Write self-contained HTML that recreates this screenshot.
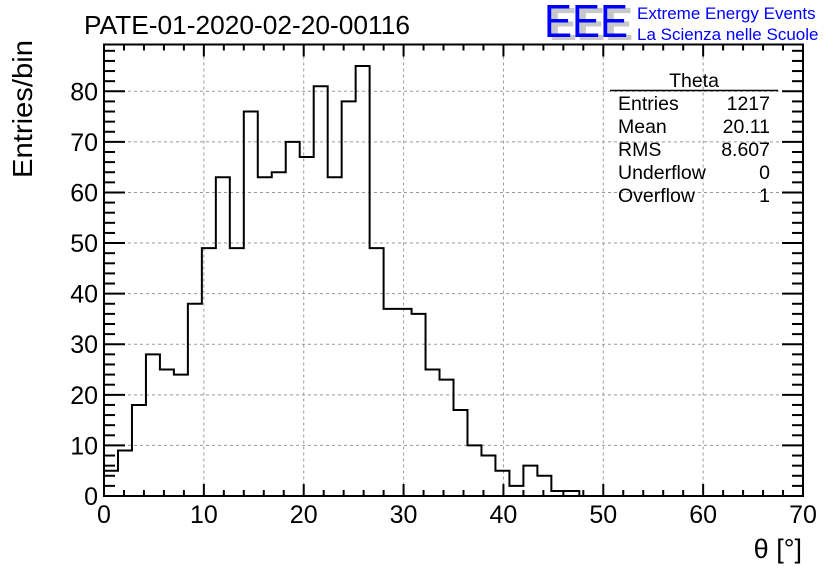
<!DOCTYPE html>
<html><head><meta charset="utf-8"><style>
html,body{margin:0;padding:0;background:#fff;}
svg{display:block;font-family:"Liberation Sans",sans-serif;}
</style></head><body>
<svg id="c" width="836" height="572" viewBox="0 0 836 572">
<rect width="836" height="572" fill="#fff"/>
<text x="84" y="34" font-size="25.5" textLength="326" lengthAdjust="spacingAndGlyphs">PATE-01-2020-02-20-00116</text>
<g>
<text x="549" y="40" font-size="46" fill="#c8c8c8" font-weight="bold" textLength="84" lengthAdjust="spacingAndGlyphs">EEE</text>
<text x="544" y="37" font-size="46" fill="#0000ff" textLength="84" lengthAdjust="spacingAndGlyphs">EEE</text>
<text x="637" y="19" font-size="17" fill="#0000ff">Extreme Energy Events</text>
<text x="637" y="40" font-size="17" fill="#0000ff">La Scienza nelle Scuole</text>
</g>
<g id="grid"></g>
<g id="stats">
<text x="694" y="87" font-size="19.5" text-anchor="middle">Theta</text>
<line x1="610" y1="90.5" x2="778" y2="90.5" stroke="#000" stroke-width="1.5"/>
<g font-size="19.5">
<text x="618" y="110">Entries</text><text x="770" y="110" text-anchor="end">1217</text>
<text x="618" y="133">Mean</text><text x="770" y="133" text-anchor="end">20.11</text>
<text x="618" y="156">RMS</text><text x="770" y="156" text-anchor="end">8.607</text>
<text x="618" y="179">Underflow</text><text x="770" y="179" text-anchor="end">0</text>
<text x="618" y="202">Overflow</text><text x="770" y="202" text-anchor="end">1</text>
</g></g>
<path id="hist" fill="none" stroke="#000" stroke-width="2"/>
<g id="axes"></g>
<text x="32" y="40" font-size="28" text-anchor="end" textLength="138" lengthAdjust="spacingAndGlyphs" transform="rotate(-90 32 40)">Entries/bin</text>
<text x="802" y="558" font-size="27" text-anchor="end">θ [°]</text>
</svg>
<script>
const binWidth = 1.4;
const counts = [5,9,18,28,25,24,38,49,63,49,76,63,64,70,67,81,63,78,85,49,37,37,36,25,23,17,10,8,5,2,6,4,1,1];
const xTicks = [0,10,20,30,40,50,60,70];
const yTicks = [0,10,20,30,40,50,60,70,80];
const xMin=0,xMax=70,yMin=0,yMax=89.25;
const L=104,R=803,T=44.5,B=496;
const sx=v=>L+(v-xMin)/(xMax-xMin)*(R-L);
const sy=v=>B-(v-yMin)/(yMax-yMin)*(B-T);
const NS="http://www.w3.org/2000/svg";
function mk(tag,attrs,parent){const e=document.createElementNS(NS,tag);for(const k in attrs)e.setAttribute(k,attrs[k]);parent.appendChild(e);return e;}
const grid=document.getElementById('grid');
const axes=document.getElementById('axes');
xTicks.forEach(t=>{if(t>xMin&&t<xMax){const l=mk('line',{x1:sx(t),x2:sx(t),y1:T,y2:B,stroke:'#999','stroke-width':1,'stroke-dasharray':'3,3'},grid);

}});
yTicks.forEach(t=>{if(t>yMin){const l=mk('line',{x1:L,x2:R,y1:sy(t),y2:sy(t),stroke:'#999','stroke-width':1,'stroke-dasharray':'3,3'},grid);

}});
let d='M'+sx(0)+','+sy(0);
counts.forEach((c,i)=>{d+=' L'+sx(i*binWidth)+','+sy(c)+' L'+sx((i+1)*binWidth)+','+sy(c);});
d+=' L'+sx(counts.length*binWidth)+','+sy(0);
document.getElementById('hist').setAttribute('d',d);
mk('rect',{x:L,y:T,width:R-L,height:B-T,fill:'none',stroke:'#000','stroke-width':2},axes);
for(let v=xMin;v<=xMax+1e-9;v+=2){const maj=Math.abs(v%10)<1e-6;const len=maj?12:6;
mk('line',{x1:sx(v),x2:sx(v),y1:B,y2:B-len,stroke:'#000','stroke-width':2},axes);
mk('line',{x1:sx(v),x2:sx(v),y1:T,y2:T+len,stroke:'#000','stroke-width':2},axes);}
for(let v=0;v<=yMax;v+=2){const maj=v%10===0;const len=maj?21:11;
mk('line',{x1:L,x2:L+len,y1:sy(v),y2:sy(v),stroke:'#000','stroke-width':2},axes);
mk('line',{x1:R,x2:R-len,y1:sy(v),y2:sy(v),stroke:'#000','stroke-width':2},axes);}
xTicks.forEach(t=>{const e=mk('text',{x:sx(t),y:523,'font-size':25,'text-anchor':'middle'},axes);e.textContent=t;

});
yTicks.forEach(t=>{const e=mk('text',{x:98,y:sy(t)+9,'font-size':25,'text-anchor':'end'},axes);e.textContent=t;

});
</script>
</body></html>
